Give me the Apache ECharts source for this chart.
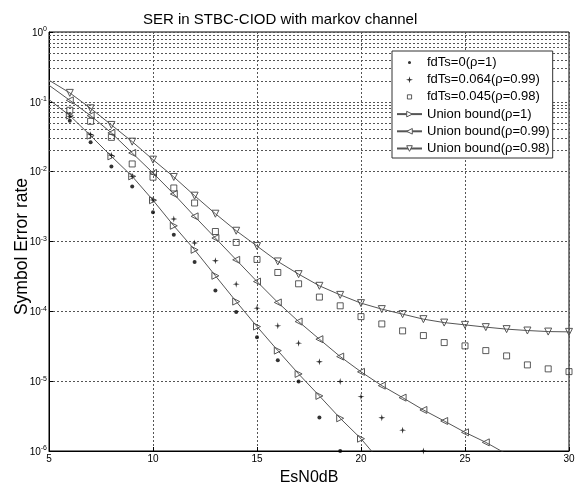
<!DOCTYPE html>
<html><head><meta charset="utf-8">
<script src="https://cdn.jsdelivr.net/npm/echarts@6/dist/echarts.min.js"></script>
<style>html,body{margin:0;padding:0;background:#fff}#c{width:579px;height:486px}</style>
</head><body><div id="c"></div>
<script>
// x values (EsN0 in dB)
const snr = [5,6,7,8,9,10,11,12,13,14,15,16,17,18,19,20,21,22,23,24,25,26,27,28,29,30];
// simulated SER
const serRho1   = [null,0.0538,0.0263,0.0119,0.00615,0.00263,0.00125,5.07e-4,1.99e-4,9.8e-5,4.27e-5,2.0e-5,9.86e-6,3.02e-6,1.0e-6,null,null,null,null,null,null,null,null,null,null,null];
const serRho099 = [null,0.0621,0.0339,0.01713,0.00857,0.00393,0.0021,9.5e-4,5.3e-4,2.45e-4,1.11e-4,6.2e-5,3.5e-5,1.9e-5,9.9e-6,6.0e-6,3.0e-6,1.99e-6,1.0e-6,null,null,null,null,null,null,null];
const serRho098 = [null,0.0757,0.0526,0.031,0.0129,0.00834,0.00584,0.00356,0.00139,9.7e-4,5.53e-4,3.6e-4,2.48e-4,1.6e-4,1.2e-4,8.4e-5,6.6e-5,5.25e-5,4.5e-5,3.57e-5,3.2e-5,2.74e-5,2.3e-5,1.71e-5,1.5e-5,1.37e-5];
// union bounds
const ubRho1   = [0.1077,0.0635,0.0328,0.01656,0.00857,0.0039,0.00168,7.6e-4,3.23e-4,1.38e-4,6.05e-5,2.74e-5,1.27e-5,6.15e-6,2.94e-6,1.5e-6,6.7e-7,null,null,null,null,null,null,null,null,null];
const ubRho099 = [0.1727,0.105,0.0635,0.0359,0.01854,0.00958,0.00479,0.00229,0.00112,5.47e-4,2.67e-4,1.34e-4,7.14e-5,3.99e-5,2.25e-5,1.36e-5,8.63e-6,5.81e-6,3.87e-6,2.69e-6,1.85e-6,1.33e-6,9.05e-7,null,null,null];
const ubRho098 = [0.2038,0.1343,0.0808,0.0467,0.0269,0.01486,0.0084,0.00453,0.0025,0.001426,8.6e-4,5.18e-4,3.41e-4,2.32e-4,1.72e-4,1.31e-4,1.076e-4,9.12e-5,7.73e-5,6.9e-5,6.4e-5,5.94e-5,5.56e-5,5.31e-5,5.13e-5,5.08e-5];
// labels
const names = ['fdTs=0(ρ=1)','fdTs=0.064(ρ=0.99)','fdTs=0.045(ρ=0.98)','Union bound(ρ=1)','Union bound(ρ=0.99)','Union bound(ρ=0.98)'];
const titleText = 'SER in STBC-CIOD with markov channel';
const xName = 'EsN0dB';
const yName = 'Symbol Error rate';

const FONT = 'Liberation Sans, Arial, sans-serif';
const YMIN = 1e-6;

function pts(arr){ const o=[]; arr.forEach((v,i)=>{ if(v!=null) o.push([snr[i], v]); }); return o; }
function linePts(arr){
  const o=[];
  arr.forEach((v,i)=>{ if(v==null) return;
    const hide = (i===0) || v < YMIN;
    o.push(hide ? {value:[snr[i],v], symbol:'none'} : {value:[snr[i],v]});
  });
  return o;
}
// minor log grid positions (2..9 x 10^k)
const minor = [];
for (let k=-6;k<0;k++) for (let m=2;m<=9;m++) minor.push({yAxis: m*Math.pow(10,k)});

const gridLine = {color:'#555', width:1, type:[2,2]};
const lineGray = '#555';
const hollow = {color:'#fff', borderColor:lineGray, borderWidth:1};

const chart = echarts.init(document.getElementById('c'), null, {renderer:'canvas'});
chart.setOption({
  animation:false,
  backgroundColor:'#fff',
  textStyle:{fontFamily:FONT},
  title:{text:titleText, left:143, top:12, padding:0,
    textStyle:{fontFamily:FONT, fontSize:15, fontWeight:'normal', color:'#000'}},
  grid:{left:49, right:10, top:32, bottom:35, outerBoundsMode:'none', containLabel:false,
    show:true, borderColor:'#000', borderWidth:1, backgroundColor:'#fff'},
  legend:{
    orient:'vertical', left:392, top:51,
    padding:[5,3,3,4], itemGap:4.2, itemWidth:25, itemHeight:7,
    backgroundColor:'#fff', borderColor:'#333', borderWidth:1, borderRadius:0,
    textStyle:{fontFamily:FONT, fontSize:13, color:'#000'},
    data:[
      {name:names[0], icon:'path://M0,0 M10,10 M5,2.8 A2.2,2.2 0 1 1 5,7.2 A2.2,2.2 0 1 1 5,2.8 Z'},
      {name:names[1]},
      {name:names[2], icon:'path://M0,0 M10,10 M2,2 L8,2 L8,8 L2,8 Z', itemStyle:{color:'#fff', borderColor:'#333', borderWidth:1}},
      {name:names[3], itemStyle:hollow},{name:names[4], itemStyle:hollow},{name:names[5], itemStyle:hollow}
    ]
  },
  xAxis:{
    type:'value', min:5, max:30, interval:5,
    name:xName, nameLocation:'middle', nameGap:19, nameMoveOverlap:false,
    nameTextStyle:{fontFamily:FONT, fontSize:16, color:'#000'},
    axisLine:{show:true, onZero:false, lineStyle:{color:'#000', width:1}},
    axisTick:{show:true, inside:true, length:4, lineStyle:{color:'#000'}},
    axisLabel:{fontFamily:FONT, fontSize:10, color:'#000', margin:3},
    splitLine:{show:true, lineStyle:gridLine}
  },
  yAxis:{
    type:'log', logBase:10, min:1e-6, max:1, splitNumber:6,
    name:yName, nameLocation:'middle', nameGap:18, nameMoveOverlap:false,
    nameTextStyle:{fontFamily:FONT, fontSize:17.5, color:'#000', padding:[0,10,0,0]},
    axisLine:{show:true, onZero:false, lineStyle:{color:'#000', width:1}},
    axisTick:{show:true, inside:true, length:4, lineStyle:{color:'#000'}},
    axisLabel:{margin:2,
      formatter:v=>'{b|10}{s|'+Math.round(Math.log10(v))+'}',
      rich:{ b:{fontFamily:FONT, fontSize:10, color:'#000', verticalAlign:'bottom'},
             s:{fontFamily:FONT, fontSize:7, color:'#000', verticalAlign:'bottom', padding:[0,0,5,0]} }
    },
    splitLine:{show:true, lineStyle:gridLine}
  },
  series:[
    {name:names[0], type:'scatter', data:pts(serRho1), symbol:'circle', symbolSize:4,
     itemStyle:{color:'#000'}, z:5},
    {name:names[1], type:'scatter', data:pts(serRho099),
     symbol:'path://M5,0 L6,4 L10,5 L6,6 L5,10 L4,6 L0,5 L4,4 Z', symbolSize:7,
     itemStyle:{color:'#000'}, z:5},
    {name:names[2], type:'scatter', data:pts(serRho098), symbol:'rect', symbolSize:6,
     itemStyle:{color:'transparent', borderColor:'#333', borderWidth:1}, z:5},
    {name:names[3], type:'line', data:linePts(ubRho1), symbol:'triangle', symbolRotate:-90, symbolSize:7,
     showAllSymbol:true, lineStyle:{color:lineGray, width:1}, itemStyle:{color:'transparent', borderColor:lineGray, borderWidth:1}, z:4},
    {name:names[4], type:'line', data:linePts(ubRho099), symbol:'triangle', symbolRotate:90, symbolSize:7,
     showAllSymbol:true, lineStyle:{color:lineGray, width:1}, itemStyle:{color:'transparent', borderColor:lineGray, borderWidth:1}, z:4},
    {name:names[5], type:'line', data:linePts(ubRho098), symbol:'triangle', symbolRotate:180, symbolSize:7,
     showAllSymbol:true, lineStyle:{color:lineGray, width:1}, itemStyle:{color:'transparent', borderColor:lineGray, borderWidth:1}, z:4,
     markLine:{silent:true, symbol:'none', label:{show:false}, animation:false,
       lineStyle:gridLine, emphasis:{disabled:true}, z:1, data:minor}}
  ]
});
</script></body></html>
